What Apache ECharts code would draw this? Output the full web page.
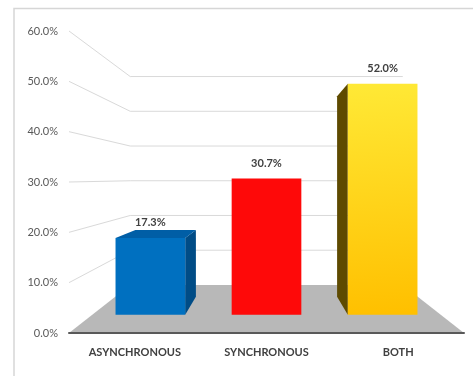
<!DOCTYPE html>
<html>
<head>
<meta charset="utf-8">
<script src="https://cdn.jsdelivr.net/npm/echarts@6/dist/echarts.min.js"></script>
<style>
  html, body { margin: 0; padding: 0; background: #ffffff; overflow: hidden; }
  #chart { width: 473px; height: 376px; }
</style>
</head>
<body>
<div id="chart"></div>
<script>
// Share of respondents by class delivery mode
const categories = ['ASYNCHRONOUS', 'SYNCHRONOUS', 'BOTH'];
const shares = [17.3, 30.7, 52.0];
const axisMin = 0;
const axisMax = 60;
const axisStep = 10;

// Perspective box: every point is first placed on the front plane by the axes,
// then pulled toward the vanishing point by a depth factor.
const DEPTH = { barFront: 0.882, barBack: 0.766, wall: 0.69 };
const EYE_LEVEL = 30.8;      // axis value at the height of the vanishing point
const BAR_RATIO = 0.6;       // bar width as a share of the category band
const FONT = "Lato, 'Liberation Sans', sans-serif";

const FACE_COLORS = [
  { front: '#0070c0', side: '#004c86', top: '#005ea6' },
  { front: '#fe0909', side: '#a80000', top: '#d00000' },
  {
    front: new echarts.graphic.LinearGradient(0, 0, 0.25, 1, [
      { offset: 0, color: '#ffe936' },
      { offset: 1, color: '#ffc000' }
    ]),
    side: '#5e4a00',
    top: '#e0b800'
  }
];

const fmtPct = v => v.toFixed(1) + '%';

function vanishingPoint(api) {
  const left = api.coord([0, EYE_LEVEL]);
  const right = api.coord([categories.length - 1, EYE_LEVEL]);
  return [(left[0] + right[0]) / 2, left[1]];
}

function project(p, s, V) {
  return [V[0] + s * (p[0] - V[0]), V[1] + s * (p[1] - V[1])];
}

function frontEdge(api, v) {
  const band = api.size([1, 0])[0];
  const l = api.coord([0, v]);
  const r = api.coord([categories.length - 1, v]);
  return { left: [l[0] - band / 2, l[1]], right: [r[0] + band / 2, r[1]] };
}

// Side-wall and back-wall gridlines
function renderGridline(params, api) {
  const v = api.value(1);
  const V = vanishingPoint(api);
  const e = frontEdge(api, v);
  const bl = project(e.left, DEPTH.wall, V);
  const br = project(e.right, DEPTH.wall, V);
  return {
    type: 'polyline',
    shape: { points: [e.left, bl, br] },
    style: { stroke: '#d9d9d9', lineWidth: 1, fill: null },
    silent: true
  };
}

// Floor of the box
function renderFloor(params, api) {
  const V = vanishingPoint(api);
  const e = frontEdge(api, axisMin);
  return {
    type: 'polygon',
    shape: { points: [e.left, e.right, project(e.right, DEPTH.wall, V), project(e.left, DEPTH.wall, V)] },
    style: { fill: '#b8b8b8' },
    silent: true
  };
}

// 3D bars with their value labels
function renderBar(params, api) {
  const i = api.value(0);
  const v = api.value(1);
  const top = api.coord([i, v]);
  const base = api.coord([i, axisMin]);
  const hw = api.size([1, 0])[0] * BAR_RATIO / 2;
  const V = vanishingPoint(api);
  const c = {
    tl: [top[0] - hw, top[1]], tr: [top[0] + hw, top[1]],
    br: [top[0] + hw, base[1]], bl: [top[0] - hw, base[1]]
  };
  const F = {}, B = {};
  Object.keys(c).forEach(k => {
    F[k] = project(c[k], DEPTH.barFront, V);
    B[k] = project(c[k], DEPTH.barBack, V);
  });
  const col = FACE_COLORS[i];
  const children = [];
  if (F.tr[0] < V[0]) {
    children.push({ type: 'polygon', shape: { points: [F.tr, B.tr, B.br, F.br] }, style: { fill: col.side } });
  }
  if (F.tl[0] > V[0]) {
    children.push({ type: 'polygon', shape: { points: [F.tl, B.tl, B.bl, F.bl] }, style: { fill: col.side } });
  }
  if (B.tl[1] < F.tl[1] - 0.5) {
    children.push({ type: 'polygon', shape: { points: [F.tl, F.tr, B.tr, B.tl] }, style: { fill: col.top } });
  }
  children.push({ type: 'polygon', shape: { points: [F.tl, F.tr, F.br, F.bl] }, style: { fill: col.front } });
  children.push({
    type: 'text',
    style: {
      x: (F.tl[0] + F.tr[0]) / 2, y: F.tl[1] - 15,
      text: fmtPct(v), align: 'center', verticalAlign: 'middle',
      fill: '#404040', font: 'bold 11px ' + FONT
    }
  });
  return { type: 'group', children };
}

const chart = echarts.init(document.getElementById('chart'), null, { renderer: 'canvas' });

const gridTicks = [];
for (let v = axisMin + axisStep; v <= axisMax; v += axisStep) gridTicks.push([0, v]);

chart.setOption({
  animation: false,
  backgroundColor: '#ffffff',
  graphic: [{
    type: 'polyline',
    shape: { points: [[14, 376], [14, 8.5], [473, 8.5]] },
    style: { stroke: '#d6d6d6', lineWidth: 1.5, fill: null },
    silent: true
  }],
  grid: { left: 69, top: 31, width: 395, height: 302, containLabel: false },
  xAxis: {
    type: 'category',
    data: categories,
    z: 4,
    axisLine: { show: true, lineStyle: { color: '#595959', width: 2 } },
    axisTick: { show: false },
    axisLabel: { interval: 0, margin: 14, color: '#404040', fontWeight: 'bold', fontSize: 11, fontFamily: FONT }
  },
  yAxis: {
    type: 'value',
    min: axisMin, max: axisMax, interval: axisStep,
    axisLine: { show: false },
    axisTick: { show: false },
    splitLine: { show: false },
    axisLabel: { margin: 11, color: '#595959', fontSize: 11, fontFamily: FONT, formatter: fmtPct }
  },
  series: [
    { type: 'custom', z: 1, renderItem: renderGridline, data: gridTicks },
    { type: 'custom', z: 2, renderItem: renderFloor, data: [[0, axisMin]] },
    { type: 'custom', z: 3, renderItem: renderBar, data: shares.map((v, i) => [i, v]) }
  ]
});
</script>
</body>
</html>
